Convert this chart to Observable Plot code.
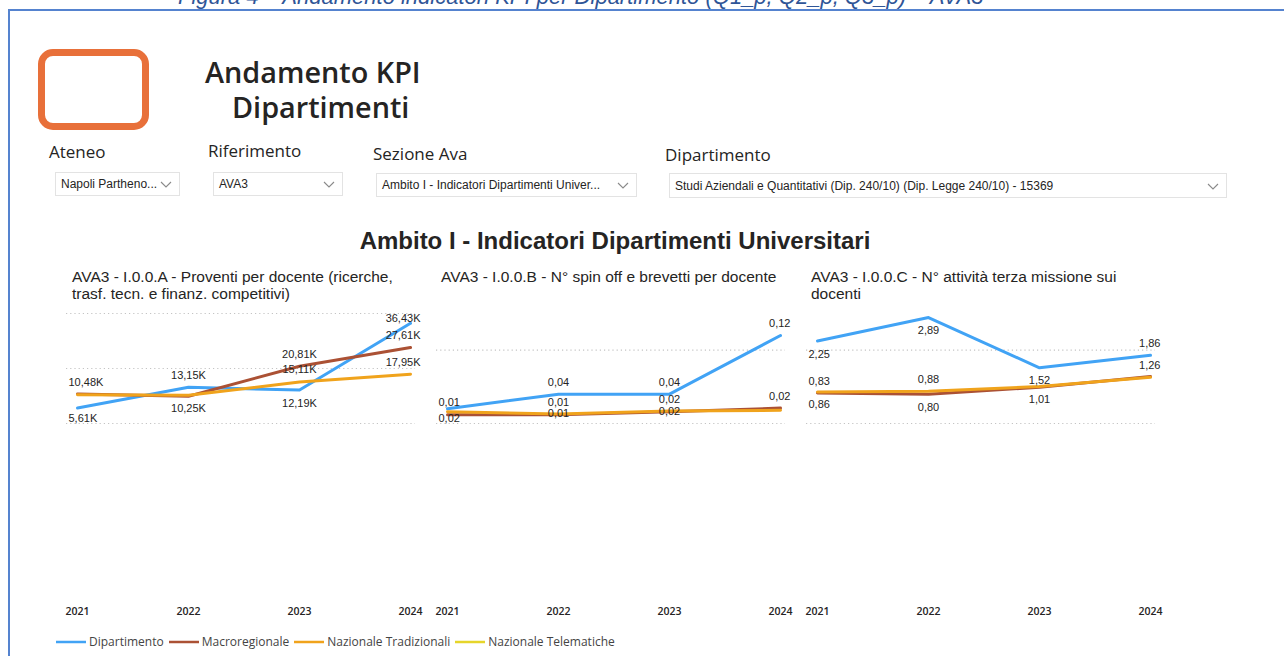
<!DOCTYPE html>
<html><head><meta charset="utf-8">
<script src="https://cdn.jsdelivr.net/npm/d3@7"></script>
<script src="https://cdn.jsdelivr.net/npm/@observablehq/plot@0.6"></script>
<style>
html,body{margin:0;padding:0;background:#fff}
body{width:1284px;height:656px;overflow:hidden;position:relative;font-family:"Liberation Sans",Arial,sans-serif;color:#252423}
.abs{position:absolute;white-space:nowrap}
.frame-top{position:absolute;left:8px;top:9px;width:1290px;height:0;border-top:2px solid #5583cf}
.frame-left{position:absolute;left:8px;top:9px;width:0;height:660px;border-left:2px solid #5583cf}
.caption{position:absolute;left:178px;top:-14px;font:italic 22px/22px "Liberation Sans",Arial,sans-serif;color:#2f5597;white-space:nowrap}
.logo{position:absolute;left:38px;top:49px;width:97px;height:67px;border:7px solid #e8703a;border-radius:15px}
.title{font-family:"Open Sans",sans-serif;font-weight:600;font-size:28.8px;line-height:29px;color:#252423}
.slh{font-family:"Open Sans",sans-serif;font-size:17px;line-height:17px;color:#252423}
.dd{position:absolute;border:1px solid #e3e3e3;box-sizing:border-box;font-size:12px;color:#252423;background:#fff}
.dd span{position:absolute;left:5px;top:50%;transform:translateY(-50%);white-space:nowrap}
.dd svg{position:absolute;right:7px;top:50%;margin-top:-3px}
.main{font-weight:bold;font-size:24px;line-height:24px;width:1284px;text-align:center;left:-27px}
.ptitle{font-size:15.5px;line-height:17px;color:#252423}
.panel{position:absolute;top:300px}
.legend{position:absolute;left:56px;top:633px;display:flex;align-items:center;font-family:"Open Sans",sans-serif;font-size:12px;color:#444;white-space:nowrap}
.legend .it{display:flex;align-items:center;margin-right:5px}
.legend svg{margin-right:3px}
</style></head><body>
<div class="caption">Figura 4 – Andamento indicatori KPI per Dipartimento (Q1_p, Q2_p, Q3_p) – AVA3</div>
<div class="frame-top"></div><div class="frame-left"></div>
<div class="logo"></div>
<div id="root"></div>
<script>
// ---------- DATA ----------
const years = [2021, 2022, 2023, 2024];
const seriesNames = ["Dipartimento", "Macroregionale", "Nazionale Tradizionali", "Nazionale Telematiche"];
const seriesColors = ["#41a3f5", "#ab5134", "#f0a31c", "#e6d52a"];

const headerTitle = ["Andamento KPI", "Dipartimenti"];
const slicerLabels = ["Ateneo", "Riferimento", "Sezione Ava", "Dipartimento"];
const slicerValues = ["Napoli Partheno...", "AVA3", "Ambito I - Indicatori Dipartimenti Univer...", "Studi Aziendali e Quantitativi (Dip. 240/10) (Dip. Legge 240/10) - 15369"];
const mainTitle = "Ambito I - Indicatori Dipartimenti Universitari";
const panelTitles = [
  ["AVA3 - I.0.0.A - Proventi per docente (ricerche,", "trasf. tecn. e finanz. competitivi)"],
  ["AVA3 - I.0.0.B - N° spin off e brevetti per docente"],
  ["AVA3 - I.0.0.C - N° attività terza missione sui", "docenti"]
];

// Panel A: Proventi per docente
const aDipartimento = [5610, 13150, 12190, 36430];
const aMacroregionale = [10700, 9900, 20810, 27610];
const aNazTradizionali = [10480, 10250, 15110, 17950];
// Panel B: N° spin off e brevetti per docente
const bDipartimento = [0.02, 0.04, 0.04, 0.12];
const bMacroregionale = [0.012, 0.012, 0.016, 0.021];
const bNazTradizionali = [0.016, 0.013, 0.017, 0.018];
// Panel C: N° attività terza missione sui docenti
const cDipartimento = [2.25, 2.89, 1.52, 1.86];
const cMacroregionale = [0.83, 0.80, 0.99, 1.28];
const cNazTradizionali = [0.86, 0.88, 1.01, 1.26];

const yMax = [40000, 0.15, 3];
const gridTicks = [[0, 20000, 40000], [0, 0.1], [0, 2]];

// Visible data labels: [series index, year index, placement]
const aLabels = [[2,0,"above"],[0,0,"floor"],[0,1,"above"],[2,1,"below"],[1,2,"above"],[2,2,"above"],[0,2,"below"],[0,3,"ceiling"],[1,3,"above"],[2,3,"above"]];
const bLabels = [[1,0,"above"],[2,0,"floor"],[0,1,"above"],[1,1,"above"],[2,1,"on"],[0,2,"above"],[1,2,"above"],[2,2,"on"],[0,3,"above"],[1,3,"above"]];
const cLabels = [[0,0,"below"],[1,0,"above"],[2,0,"below"],[0,1,"below"],[2,1,"above"],[1,1,"below"],[0,2,"below"],[2,2,"below"],[0,3,"above"],[2,3,"above"]];

// ---------- LAYOUT ----------
const root = document.getElementById("root");
function el(tag, cls, style, html) {
  const e = document.createElement(tag);
  if (cls) e.className = cls;
  if (style) e.style.cssText = style;
  if (html != null) e.innerHTML = html;
  root.appendChild(e);
  return e;
}
el("div", "abs title", "left:205px;top:57px", headerTitle[0]);
el("div", "abs title", "left:232px;top:92px", headerTitle[1]);

const slicerPos = [[49,143,55,172,125,24],[208,142,213,172,130,24],[373,145,376,173,261,24],[665,146,669,173,558,25]];
const chevron = '<svg width="12" height="7"><polyline points="1,1 6,6 11,1" fill="none" stroke="#8a8a8a" stroke-width="1.1"/></svg>';
slicerLabels.forEach((t, i) => {
  const p = slicerPos[i];
  el("div", "abs slh", `left:${p[0]}px;top:${p[1]}px`, t);
  el("div", "dd", `left:${p[2]}px;top:${p[3]}px;width:${p[4]}px;height:${p[5]}px`, `<span>${slicerValues[i]}</span>${chevron}`);
});

el("div", "abs main", "top:229px", mainTitle);

const panelLeft = [30, 400, 770];
const titleLeft = [72, 441, 811];
panelTitles.forEach((lines, i) => el("div", "abs ptitle", `left:${titleLeft[i]}px;top:268px`, lines.join("<br>")));

const panelData = [
  [aDipartimento, aMacroregionale, aNazTradizionali],
  [bDipartimento, bMacroregionale, bNazTradizionali],
  [cDipartimento, cMacroregionale, cNazTradizionali]
];
const panelLabels = [aLabels, bLabels, cLabels];
const fmt = [
  v => (v / 1000).toFixed(2).replace(".", ",") + "K",
  v => v.toFixed(2).replace(".", ","),
  v => v.toFixed(2).replace(".", ",")
];
const placeDy = {above: -12, below: 13, on: 0, floor: -5, ceiling: 5};

panelData.forEach((series, i) => {
  const rows = [];
  series.forEach((arr, s) => arr.forEach((v, j) => rows.push({series: seriesNames[s], s, year: years[j], j, value: v})));
  const labels = panelLabels[i].map(([s, j, place]) => ({
    year: years[j], j, place,
    text: fmt[i](series[s][j]),
    y: place === "floor" ? 0 : place === "ceiling" ? yMax[i] : series[s][j]
  }));
  const labelMarks = [];
  for (const place of Object.keys(placeDy)) {
    for (const [pos, anchor, dx] of [[0, "start", -9], [1, "middle", 0], [2, "middle", 0], [3, "end", 10]]) {
      const subset = labels.filter(d => d.place === place && d.j === pos);
      if (!subset.length) continue;
      labelMarks.push(Plot.text(subset, {
        x: "year", y: "y", text: "text", dy: placeDy[place], dx, textAnchor: anchor,
        fontSize: 11, fill: "#252423", fontFamily: "Liberation Sans, Arial, sans-serif"
      }));
    }
  }
  const chart = Plot.plot({
    width: 390, height: 330,
    marginLeft: 36, marginRight: 5, marginTop: 0, marginBottom: 26,
    x: {type: "point", domain: years, range: [46, 380], padding: 0},
    y: {domain: [0, yMax[i]], range: [123, 13], axis: null},
    color: {domain: seriesNames, range: seriesColors},
    style: {background: "transparent", overflow: "visible", color: "#252423"},
    marks: [
      Plot.ruleY(gridTicks[i], {stroke: "#c4c4c4", strokeWidth: 1.2, strokeDasharray: "1.2,3"}),
      Plot.line(rows, {x: "year", y: "value", z: "series", stroke: "series", strokeWidth: 3, curve: "linear"}),
      ...labelMarks,
      Plot.axisX({label: null, tickSize: 0, tickPadding: 3, tickFormat: d => String(d), fontSize: 10.5, fontWeight: 600, fontFamily: "Open Sans, sans-serif", fill: "#252423"})
    ]
  });
  const wrap = el("div", "panel", `left:${panelLeft[i]}px`);
  wrap.appendChild(chart);
});

// Legend
const lg = el("div", "legend");
seriesNames.forEach((n, i) => {
  const it = document.createElement("div");
  it.className = "it";
  it.innerHTML = `<svg width="30" height="4"><line x1="0" x2="30" y1="2" y2="2" stroke="${seriesColors[i]}" stroke-width="2.5"/></svg><span>${n}</span>`;
  lg.appendChild(it);
});
</script>
</body></html>
